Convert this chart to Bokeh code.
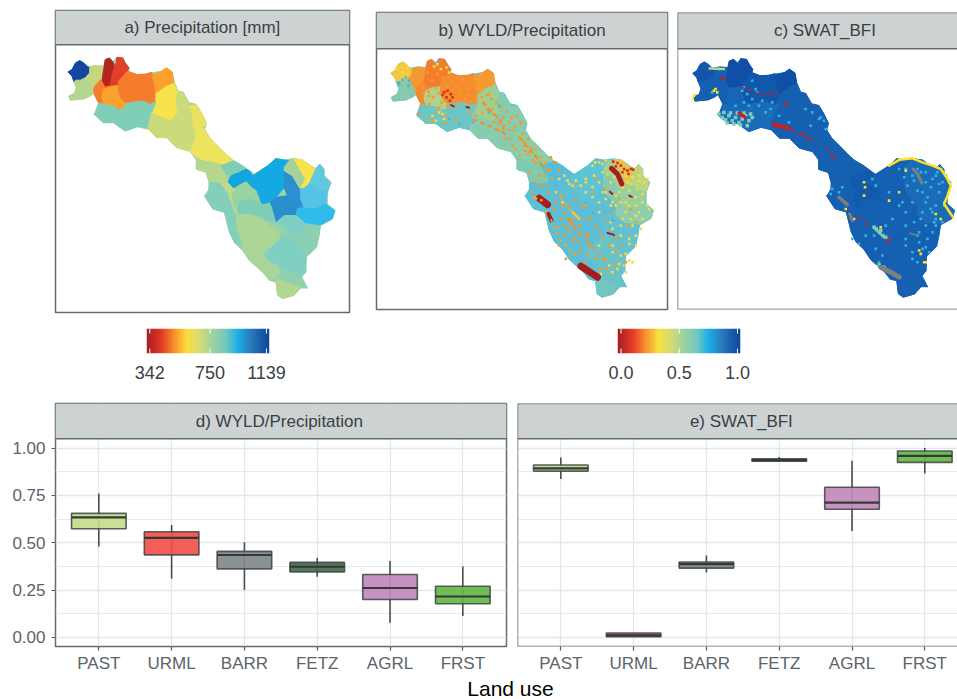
from bokeh.plotting import figure
from bokeh.layouts import column, row
from bokeh.models import Range1d, FixedTicker, LinearAxis, Label, BoxAnnotation, Span, LinearColorMapper
from bokeh.embed import file_html
from bokeh.resources import INLINE
import numpy as np

FONT = "Liberation Sans"
# ---------------------------------------------------------------- box plots
land_use = ["PAST", "URML", "BARR", "FETZ", "AGRL", "FRST"]
box_colors = ["#C6DC88", "#F2504B", "#82888A", "#456B4B", "#C289BB", "#66B744"]
d_wlo = [0.48, 0.31, 0.25, 0.32, 0.078, 0.113]
d_q1 = [0.574, 0.436, 0.362, 0.345, 0.20, 0.178]
d_med = [0.634, 0.526, 0.435, 0.373, 0.261, 0.216]
d_q3 = [0.655, 0.558, 0.454, 0.396, 0.332, 0.27]
d_whi = [0.76, 0.594, 0.502, 0.42, 0.403, 0.375]
e_wlo = [0.837, 0.004, 0.343, 0.929, 0.562, 0.866]
e_q1 = [0.878, 0.004, 0.366, 0.93, 0.677, 0.924]
e_med = [0.892, 0.011, 0.387, 0.936, 0.712, 0.958]
e_q3 = [0.91, 0.023, 0.398, 0.943, 0.793, 0.984]
e_whi = [0.95, 0.023, 0.433, 0.952, 0.933, 1.0]
y_ticks = [0, 0.25, 0.5, 0.75, 1.0]
y_minor = [0.125, 0.375, 0.625, 0.875]

# ---------------------------------------------------------------- basin outline and sub-basins
basin_x = [53,65,75,88,100,112,135,160,165,178,190,200,218,228,237,235,260,285,305,335,350,365,372,385,400,418,440,455,470,465,
 480,510,535,553,580,600,615,655,680,705,735,760,785,800,812,825,825,847,835,835,858,850,815,810,803,772,770,758,775,755,735,
 700,685,680,660,640,600,580,555,540,525,490,465,478,478,470,440,440,420,380,350,320,295,262,225,190,160,132,145,132,130,100,
 60,55,72,78,70,65]
basin_y = [197,190,172,163,170,182,178,180,160,155,165,153,155,172,185,195,205,203,200,195,185,195,225,255,258,290,295,320,350,370,
 395,425,450,465,480,495,505,480,458,462,458,462,480,488,475,490,510,530,560,595,615,640,660,690,725,755,800,815,848,848,870,
 880,870,830,825,800,765,735,712,680,620,610,572,550,530,500,490,462,435,425,395,395,370,362,375,350,350,325,290,265,262,278,
 282,270,262,245,225,210]
sub_x = [
 [53,65,75,88,100,108,118,118,105,90,75,70,65],
 [118,135,160,158,152,133,130,120,108,105,118],
 [75,90,105,115,130,130,120,100,60,55,72,78],
 [165,178,190,195,185,180,165,155,158,162],
 [200,218,225,237,232,205,205,180,185,190,198],
 [152,158,165,180,180,160,155,158,145,132,130,133],
 [180,203,205,215,228,225,205,190,160,155,160],
 [205,232,260,285,305,312,318,315,300,280,250,228,215,205],
 [305,335,350,368,372,350,325,318,312],
 [372,383,378,385,362,325,305,318,318,325,350],
 [145,160,190,205,225,228,250,280,300,318,305,297,290,262,225,190,160,132,145],
 [305,325,362,385,378,383,400,420,430,430,440,435,420,415,380,350,320,295,297],
 [420,440,455,470,460,440,430,430],
 [440,460,480,510,535,553,525,490,460,440,420,435],
 [440,490,515,530,535,515,480,470,440],
 [515,553,580,590,570,545,530],
 [535,545,570,590,600,610,590,570,550],
 [610,655,680,700,720,705,705,705,680,665,635,620,590],
 [705,730,750,755,765,745,715,705],
 [680,715,745,740,705,680,665,665],
 [705,720,735,755,770,760,750,730,705],
 [735,760,780,800,790,780,765,755,770,755],
 [800,812,825,825,845,835,800,780],
 [780,800,835,830,800,770,765,755,755,765],
 [770,800,830,858,850,810,770,740,745,765],
 [550,590,620,635,600,570,555,545],
 [570,600,635,665,680,640,600,565],
 [480,515,535,545,555,565,580,555,540,525,490,465,478],
 [515,535,550,555,545,555,565,545,535],
 [560,600,640,665,692,640,600,580,565],
 [680,705,740,770,760,740,715],
 [692,715,740,760,770,810,810,800,770,730,692],
 [640,692,730,770,770,755,690,655],
 [600,640,692,692,640,655,690,695,670,640,600,580,580],
 [670,695,690,755,760,775,755,735,680],
 [680,735,755,735,700,685],
]
sub_y = [
 [197,190,170,163,170,178,185,200,215,222,222,225,210],
 [185,178,180,205,220,240,250,245,225,215,200],
 [222,222,215,232,250,262,270,278,282,270,262,245],
 [160,155,170,190,210,240,243,230,205,180],
 [153,155,170,185,195,225,238,240,210,190,170],
 [220,232,243,240,244,250,270,292,290,265,250,240],
 [241,238,255,280,295,305,312,300,295,270,250],
 [225,195,205,205,198,225,260,285,295,285,288,290,280,255],
 [208,195,185,198,230,240,258,262,225],
 [232,255,290,320,345,330,320,285,262,258,240],
 [290,295,300,312,305,292,288,285,295,288,320,350,365,362,375,350,350,325,310],
 [320,330,345,320,290,255,262,295,310,365,375,405,435,435,425,395,395,370,350],
 [300,295,320,350,365,375,365,330],
 [375,365,395,425,450,465,475,470,462,455,435,405],
 [462,470,480,505,530,535,530,500,490],
 [480,465,480,490,500,510,505],
 [530,510,500,490,495,510,525,535,548],
 [510,480,458,462,465,485,500,545,575,590,595,555,525],
 [495,510,545,580,605,610,570,545],
 [575,570,610,630,630,652,610,590],
 [485,465,462,495,520,545,545,510,495],
 [460,462,478,490,510,535,548,545,520,495],
 [490,475,490,510,530,560,545,535],
 [535,545,560,595,610,610,605,580,548,548],
 [610,610,595,615,640,660,655,630,610,605],
 [550,535,555,595,580,590,620,570],
 [590,580,595,600,652,640,625,625],
 [530,535,560,590,620,680,715,710,680,620,610,570,555],
 [535,530,548,550,570,620,625,590,560],
 [630,625,640,665,690,720,730,715,680],
 [652,630,630,655,695,695,670],
 [690,670,695,695,655,660,690,725,755,700,700],
 [745,700,700,755,800,812,785,765],
 [730,720,690,700,745,765,785,805,825,800,765,735,715],
 [825,805,785,812,835,848,845,840,820],
 [820,840,845,870,880,865],
]
sub_a = ["#1346A0","#C6D67F","#B4D68F","#B32520","#E0402A","#F57C2A","#FBA02C","#F57C2A","#FBA02C","#F9E34A",
         "#7FCFB8","#CBDB7B","#ECE060","#EEE35E","#B4D68F","#7FCDB5","#12A4DF","#14A9E2","#2C8FCF","#2A8DCC",
         "#A5D29A","#F9E34A","#62C8E0","#54C3E6","#2FBCEC","#9AD2A3","#7FCCB7","#84CFBB","#C0D98A","#ABD695",
         "#80CFC4","#8BD0B0","#7FCFC3","#A9D698","#8FD1AE","#B3D790"]
sub_b = ["#F3C93F","#F59A32","#86C9AC","#F57C2A","#F57C2A","#F58A2C","#B2CF8C","#F58C2E","#F59A30","#9FCF94",
         "#6CC6C5","#86CDB0","#86CDB0","#8BCEA8","#7FCBB0","#55BFDA","#55BFDA","#5CC4D8","#86CBB0","#5DBFD6",
         "#A4D096","#E3C64A","#BCD67E","#98D0A0","#8ECDAD","#5DBFD6","#5DBFD6","#5CC0D4","#5CC0D4","#5DBFD6",
         "#62C2D0","#62C2D0","#68C4CC","#5DBFD6","#6AC4C4","#72C6C0"]
sub_c = ["#1255AA","#1560B0","#1560B0","#0F4FA6","#0F4FA6","#1460B2","#1665B6","#1157AC","#0F4FA6","#1560B0",
         "#1A6CB8","#1560B0","#1560B0","#1560B0","#1560B0","#1560B0","#125AAE","#1560B0","#1A6AB8","#1560B0",
         "#1A6CB8","#1A6CB8","#1A6CB8","#1A6CB8","#1A6CB8","#125AAE","#1560B0","#1560B0","#1560B0","#1560B0",
         "#1560B0","#1560B0","#1560B0","#1560B0","#1560B0","#1560B0"]

# ---------------------------------------------------------------- panel b overlays (frame pixels of the crop)
b_orange_x = [120,135,150,165,180,195,210,225,240,255,270,285,300,320,340,355,130,150,170,190,215,235,260,290,315,350,
 140,165,190,220,250,280,310,335,360,180,215,250,145,170,200,225,385,395,410,425,440,455,365,380,400,420,445,
 455,470,480,490,505,520,535,550,410,430,465,490,515,540,560,470,500,545,570,585,600,590,620,640,660,575,
 605,640,680,700,720,600,650,700,730,640,680,720,760,520,560,580,610,640,670,700,740,775,790,
 150,168,182,198,208,228,246,262,278,296,312,328,342,358,372,385,402,418,362,345,330,312,292,375,392,410,428,445,432,
 452,466,475,458,442,490,505,520,530,490,500,515,480,530,548,565,575,590,610,630,655,670,690,710,655,625,645,600,
 575,555,565,585,730,745,765,640,620,670,700,725,610]
b_orange_y = [205,195,215,200,225,205,215,240,225,245,220,250,235,230,215,240,255,245,270,245,280,262,265,270,262,265,
 325,340,320,330,300,290,300,290,310,345,350,340,300,295,305,300,345,360,350,375,395,410,350,375,400,420,355,
 420,440,465,450,480,490,455,470,400,430,445,470,510,520,495,500,540,610,600,640,655,680,710,600,560,660,
 700,690,680,640,620,640,720,760,700,770,790,800,770,620,720,760,540,530,520,550,580,610,650,
 262,258,275,262,290,305,282,290,278,288,280,275,268,280,290,305,318,335,325,310,322,330,320,355,335,372,362,350,330,
 385,400,425,435,450,430,455,470,495,528,510,540,560,560,590,570,620,600,580,600,640,660,700,720,720,735,750,705,
 690,665,640,665,740,720,660,640,660,760,790,775,745]
b_yellow_x = [660,680,700,720,745,765,785,800,815,825,690,715,740,770,795,810,830,700,730,760,790,810,680,715,750,780,
 805,640,660,690,720,760,790,745,770,790,720,745,770,710,735,760,780,560,575,590,550,570,180,200,215,190,210,70,90,105,
 668,690,705,725,760,780,800,775,750,730,700,680,660,640,625,610,640,665,680,715,745,770,790,810,825,800,775,745,720,
 790,760,740,755,770,720,680,600,585,720,685,195,205,222,185,230]
b_yellow_y = [480,470,465,490,530,530,490,510,530,520,500,530,560,555,550,590,610,560,600,590,600,640,620,650,640,660,
 670,530,545,560,590,620,630,690,700,720,740,750,765,780,790,800,770,520,510,535,560,590,330,320,340,345,325,190,200,185,
 470,475,505,515,510,515,525,535,545,570,580,590,575,560,540,525,520,510,530,600,590,600,575,565,600,620,640,660,670,
 690,745,775,780,715,720,720,540,525,800,805,175,190,185,182,200]
b_red_x = [722,735,745,755,765,775,730,750,768,782,215,225,235,222,232,210,240]
b_red_y = [468,472,480,490,495,490,482,500,505,492,260,255,265,275,285,268,275]
b_teal_x = [90,100,80,110,78,108,230,260,300,350,380,640,660,720]
b_teal_y = [222,215,235,225,230,240,340,355,350,320,300,590,620,645]
bs_x = [[500,525],[528,537],[625,650,675],[717,735,748],[705,725],[712,720],[770,778],[236,244],[282,290],
        [330,380,395],[300,360,400],[440,480,510],[590,620,660],[640,700],[535,560,610],[598,620],[480,510],[560,600]]
bs_y = [[578,597],[625,645],[782,798,815],[488,505,535],[682,688],[558,565],[570,574],[298,302],[304,306],
        [290,340,375],[340,365,385],[395,440,480],[640,685,690],[700,770],[640,700,750],[618,640],[575,585],[570,620]]
bs_w = [7,4,7,5,2,2,2,2,2,2,2,2,2.5,1.5,1.5,2.5,2.5,1.5]
bs_c = ["#A81C1C"]*9 + ["#F58B2C"]*5 + ["#F5A52C"] + ["#F9C83A"] + ["#F5A52C"]*2
bs_d = ["solid"]*9 + ["5 3"]*5 + ["4 3"] + ["solid"] + ["5 3"]*2

# ---------------------------------------------------------------- panel c overlays (frame pixels of the crop)
c_cyan_x = [215,225,240,255,230,260,280,300,320,400,420,440,415,455,700,720,745,760,780,795,810,820,705,735,750,775,800,
 690,720,760,790,815,700,745,790,810,780,600,610,650,680,540,560,580,740,760,720,735,770,785,640,660,700,610,630,
 500,480,510,475,740,700,780,735,760,790,725,800,765,775,750,725,760,735,700,650,605,680,695,815,790,765,750,720,620,
 460,445,350,295,240,215,270,190,210,250,120,140]
c_cyan_y = [245,265,280,260,300,300,320,290,330,310,320,340,360,345,490,510,500,530,520,500,530,510,540,555,560,545,560,
 590,590,590,600,590,620,640,640,650,680,520,540,560,600,700,715,690,710,725,740,770,740,650,660,640,660,730,750,
 560,550,545,565,680,700,620,490,500,510,525,535,575,610,620,650,660,690,720,700,690,490,515,600,660,700,730,760,770,
 370,335,350,310,225,290,285,300,255,250,260,190]
c_mint_x = [140,150,160,170,180,190,200,210,220,230,240,155,175,195,215,235,165,185,205,225,612,622,632,605,625,640,620,635]
c_mint_y = [325,335,342,330,345,335,350,340,330,345,335,320,322,322,322,325,352,355,358,360,670,680,690,665,675,695,778,785]
c_yellow_x = [575,578,700,680,740,755,650,625,760,745,520,545,130,135,125,65,575,790,805]
c_yellow_y = [530,545,495,560,735,770,585,665,770,745,610,640,250,260,255,270,570,625,640]
c_red_x = [150,155,480,465,560,580,650,645,630,395,415,345,340]
c_red_y = [217,218,452,430,635,655,700,710,690,385,400,295,292]
cs_x = [[303,325,352],[360,420],[210,240,270,320],[200,220],[475,490],[500,525],[532,540],[625,655,680],[722,735,748],[712,735],
        [650,682,720,750,780,805,822,835,825,815,835,842],[112,155],[60,70],[610,635]]
cs_y = [[356,362,368],[375,405],[245,255,268,258],[322,335],[450,455],[575,597],[625,645],[785,800,815],[490,505,532],[683,690],
        [480,462,458,470,480,490,515,540,570,595,625,635],[188,190],[282,265],[672,695]]
cs_w = [4,1.5,1.5,3,1.5,3.5,3,5,3,1.5,2.5,2.5,1.5,2.5]
cs_c = ["#D01C1C"]*5 + ["#7F7F7F"]*5 + ["#FFE022"] + ["#A9D695"] + ["#FFE022"] + ["#7DD0B8"]
cs_d = ["solid","4 3","4 3"] + ["solid"]*11

# ---------------------------------------------------------------- colour scale
pal_pos = [0, .12, .225, .33, .43, .52, .65, .74, .85, 1]
pal_col = ["#A51D22","#E43A28","#F7902B","#FAE03F","#D8DC72","#A5D49A","#72C8C2","#1CB0E8","#2A7ABB","#0E459C"]
rgb = np.array([[int(c[i:i+2],16) for i in (1,3,5)] for c in pal_col])
palette = ["#%02x%02x%02x" % tuple(int(np.interp(t, pal_pos, rgb[:,k])) for k in range(3)) for t in np.linspace(0,1,256)]

STRIP = "#CDD2D3"; EDGE = "#666C6E"

def add_strip(p, y0, y1, title, xc):
    p.add_layout(BoxAnnotation(bottom=min(y0,y1), top=max(y0,y1), fill_color=STRIP, fill_alpha=1, line_color=None))
    p.add_layout(Span(location=y0, dimension="width", line_color=EDGE, line_width=1.5))
    p.add_layout(Label(x=xc, y=(y0+y1)/2, text=title, text_align="center", text_baseline="middle",
                       text_font=FONT, text_font_size="17px", text_color="#3A3F44"))

def open_frame(p, xs, ys):
    # right side runs off the page: left, top and bottom edges only
    p.outline_line_color = None
    p.add_layout(Span(location=xs, dimension="height", line_color=EDGE, line_width=1.5))
    for yy in ys:
        p.add_layout(Span(location=yy, dimension="width", line_color=EDGE, line_width=1.5))

def map_fig(x0, x1, y_bot, y_top, w, h, margin, right=2):
    p = figure(width=w, height=h, x_range=Range1d(x0, x1), y_range=Range1d(y_bot, y_top), output_backend="svg",
               toolbar_location=None, x_axis_location=None, y_axis_location=None,
               min_border_left=2, min_border_right=right, min_border_top=2, min_border_bottom=2, margin=margin,
               background_fill_color="white", border_fill_color=None)
    p.grid.grid_line_color = None
    p.outline_line_color = EDGE; p.outline_line_width = 1.5
    return p

def draw_map(p, base, colors):
    p.patch(basin_x, basin_y, fill_color=base, line_color=base, line_width=1)
    p.patches(sub_x, sub_y, fill_color=colors, line_color=colors, line_width=1)

def draw_overlay(p, sets, sx, sy, sw, sc, sd, rx, ry):
    p.extra_x_ranges["crop"] = rx; p.extra_y_ranges["crop"] = ry
    for xs, ys, c, size in sets:
        p.scatter(xs, ys, marker="square", size=size, color=c, line_color=None, x_range_name="crop", y_range_name="crop")
    for xs, ys, w, c, d in zip(sx, sy, sw, sc, sd):
        p.line(xs, ys, line_width=w, line_color=c, line_dash=d, line_cap="round" if d == "solid" else "butt",
               x_range_name="crop", y_range_name="crop")

# panel a
pa = map_fig(15, 902, 922, 12, 298, 306, (8,0,0,53))
draw_map(pa, "#9AD2A3", sub_a)
add_strip(pa, 115, 12, "a) Precipitation [mm]", 458)

# panel b
pb = map_fig(9.1, 900.8, 917.5, 11.9, 295, 301, (10,0,0,23))
draw_map(pb, "#5DBFD6", sub_b)
draw_overlay(pb, [(b_orange_x,b_orange_y,"#F59A2C",2.6),(b_yellow_x,b_yellow_y,"#F3D94A",2.6),
                  (b_red_x,b_red_y,"#D9301F",2.6),(b_teal_x,b_teal_y,"#48B9D8",2.6)], bs_x, bs_y, bs_w, bs_c, bs_d,
             Range1d(12,885), Range1d(912,20))
add_strip(pb, 122.5, 11.9, "b) WYLD/Precipitation", 455)

# panel c
pc = map_fig(5.6, 867, 917.5, 11.9, 282, 301, (10,0,0,6), right=0)
draw_map(pc, "#1560B0", sub_c)
draw_overlay(pc, [(c_cyan_x,c_cyan_y,"#2FB4E2",2.6),(c_mint_x,c_mint_y,"#7DD0B8",3.5),
                  (c_yellow_x,c_yellow_y,"#FFE022",2.6),(c_red_x,c_red_y,"#D01C1C",2.6)], cs_x, cs_y, cs_w, cs_c, cs_d,
             Range1d(16,855), Range1d(912,20))
add_strip(pc, 122.5, 11.9, "c) SWAT_BFI", 459)
open_frame(pc, 5.6, [917.5, 11.9])

# colour bars
def cbar(lo, hi, ticks, labels, margin):
    p = figure(width=163, height=59, x_range=Range1d(lo, hi), y_range=Range1d(0,1), output_backend="svg",
               toolbar_location=None, x_axis_location=None, y_axis_location=None, margin=margin,
               min_border_left=20, min_border_right=20, min_border_top=2, min_border_bottom=32, border_fill_color=None)
    p.grid.grid_line_color = None; p.outline_line_color = None
    p.image(image=[np.linspace(0,255,256).reshape(1,256)], x=lo, y=0, dw=hi-lo, dh=1,
            color_mapper=LinearColorMapper(palette=palette, low=0, high=255))
    p.segment(ticks, [0]*3, ticks, [0.2]*3, line_color="white", line_width=1)
    p.segment(ticks, [0.8]*3, ticks, [1]*3, line_color="white", line_width=1)
    ax = LinearAxis(ticker=FixedTicker(ticks=ticks), major_label_overrides=dict(zip(ticks, labels)),
                    axis_line_color=None, major_tick_line_color=None, minor_tick_line_color=None,
                    major_label_standoff=6, major_label_text_font=FONT, major_label_text_font_size="18px",
                    major_label_text_color="#3A4047")
    p.add_layout(ax, "below")
    return p

c1 = cbar(319.5, 1159.6, [342, 754, 1139], ["342", "750", "1139"], (12,0,0,126))
c2 = cbar(-0.03, 1.026, [0.0, 0.5, 1.0], ["0.0", "0.5", "1.0"], (12,0,0,308))

# box panels
def box_fig(q1, med, q3, wlo, whi, title, w, margin, left, right, x_end, ytick_labels):
    p = figure(width=w, height=274, x_range=Range1d(0.405, x_end), y_range=Range1d(-0.048, 1.235), output_backend="svg",
               toolbar_location=None, margin=margin, min_border_left=left, min_border_right=right,
               min_border_top=2, min_border_bottom=29, x_axis_location="below", y_axis_location="left",
               border_fill_color=None)
    xs = list(range(1, 7))
    for a in (p.xaxis[0], p.yaxis[0]):
        a.axis_line_color = None
        a.major_tick_line_color = "#555B5E"; a.major_tick_line_width = 1.2
        a.major_tick_in = 0; a.major_tick_out = 4
        a.minor_tick_line_color = None
        a.major_label_text_font = FONT; a.major_label_text_font_size = "17px"; a.major_label_text_color = "#5C6369"
    p.xaxis.ticker = FixedTicker(ticks=xs)
    p.xaxis.major_label_overrides = dict(zip(xs, land_use))
    p.xaxis.major_label_standoff = 3
    p.yaxis.ticker = FixedTicker(ticks=y_ticks)
    p.yaxis.major_label_overrides = {t: "%.2f" % t for t in y_ticks}
    p.yaxis.major_label_standoff = 6
    if not ytick_labels:
        p.yaxis.visible = False
    p.xgrid.ticker = FixedTicker(ticks=xs)
    p.ygrid.ticker = FixedTicker(ticks=y_ticks, minor_ticks=y_minor)
    p.grid.grid_line_color = "#E3E7E7"; p.grid.grid_line_width = 1.3
    p.ygrid.minor_grid_line_color = "#E7EAEA"; p.ygrid.minor_grid_line_width = 1.1
    p.segment(xs, wlo, xs, whi, line_color="#484E4F", line_width=1.6)
    p.quad(left=[x-0.375 for x in xs], right=[x+0.375 for x in xs], bottom=q1, top=q3,
           fill_color=box_colors, fill_alpha=0.92, line_color="#3E4445", line_alpha=0.85, line_width=1.6)
    p.segment([x-0.375 for x in xs], med, [x+0.375 for x in xs], med, line_color="#33393A", line_width=2.2)
    p.outline_line_color = EDGE; p.outline_line_width = 1.5
    add_strip(p, 1.049, 1.235, title, 3.48)
    return p

pd_ = box_fig(d_q1, d_med, d_q3, d_wlo, d_whi, "d) WYLD/Precipitation", 500, (16,0,0,8), 47, 2, 6.6, True)
pe = box_fig(e_q1, e_med, e_q3, e_wlo, e_whi, "e) SWAT_BFI", 442, (16,0,0,7), 2, 0, 6.449, False)
open_frame(pe, 0.405, [-0.048, 1.235])

lab = figure(width=957, height=24, x_range=Range1d(0,1), y_range=Range1d(0,1), output_backend="svg", toolbar_location=None,
             x_axis_location=None, y_axis_location=None, min_border=0, outline_line_color=None, border_fill_color=None)
lab.grid.grid_line_color = None
lab.add_layout(Label(x=510, y=11, x_units="screen", y_units="screen", text="Land use", text_align="center",
                     text_baseline="middle", text_font=FONT, text_font_size="21px", text_color="#000000"))

page = column(row(pa, pb, pc), row(c1, c2), row(pd_, pe), lab, spacing=0)
open("out.html", "w").write(file_html(page, INLINE))
